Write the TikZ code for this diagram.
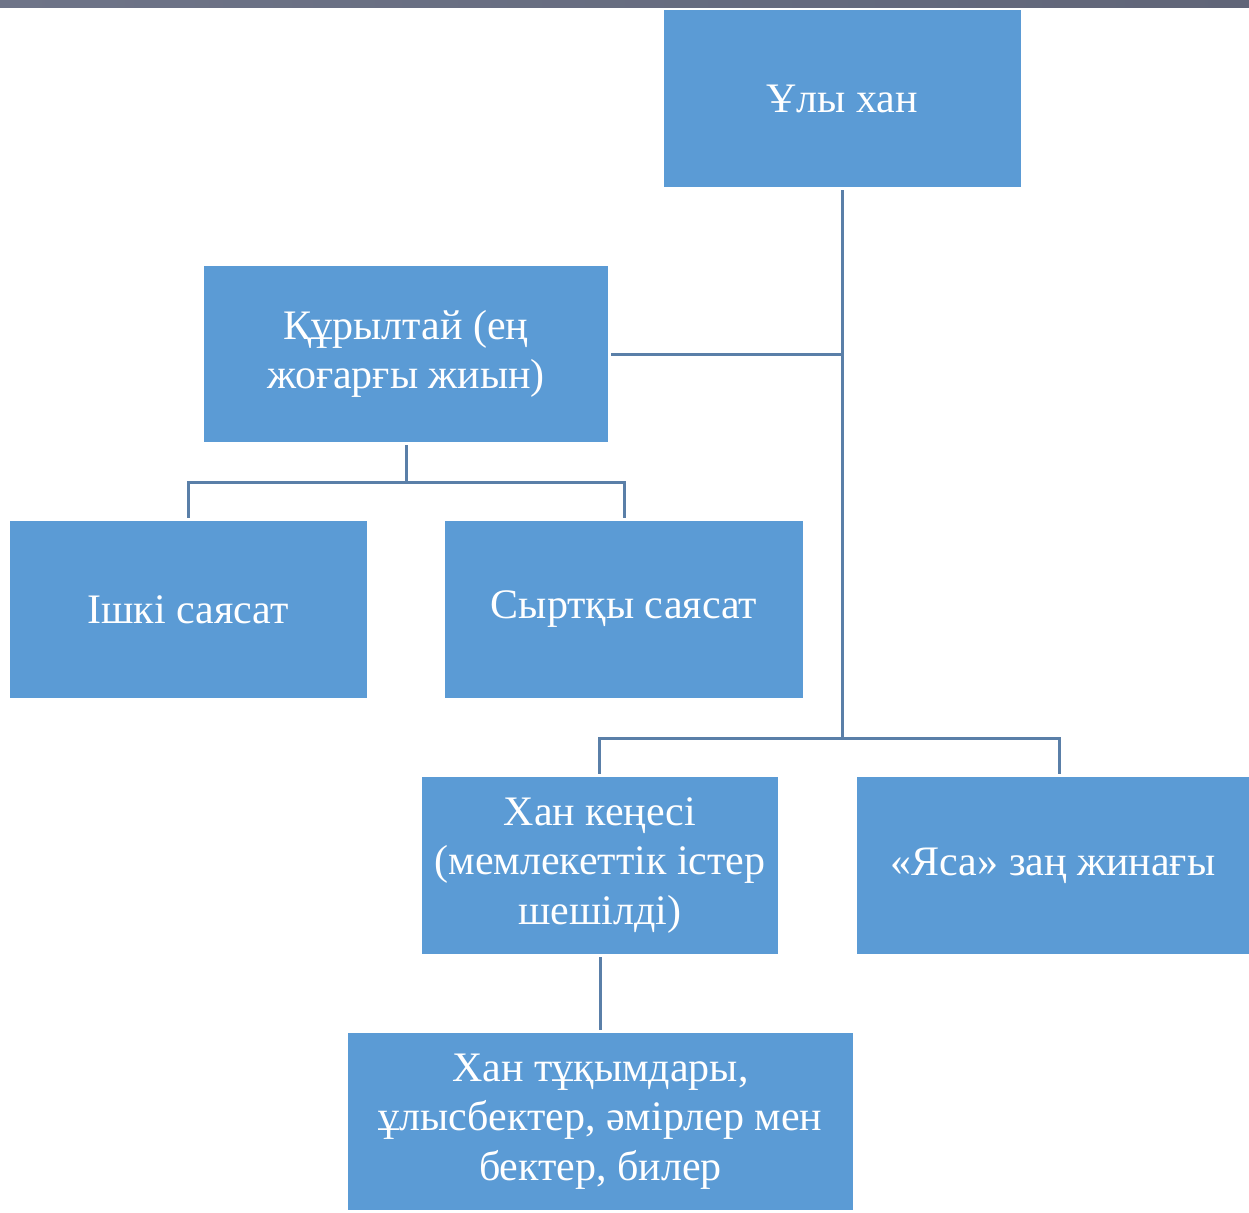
\documentclass[tikz,border=0pt]{standalone}
\usepackage{fontspec}
\setmainfont{Liberation Serif}
\definecolor{boxblue}{HTML}{5B9BD5}
\definecolor{linkblue}{HTML}{5A7FA8}
\definecolor{barL}{HTML}{6E7488}
\definecolor{barR}{HTML}{606578}
\begin{document}
\begin{tikzpicture}[x=1pt,y=-1pt,
  orgbox/.style={fill=boxblue, draw=none, text=white, align=center,
    font=\fontsize{42}{49.5}\selectfont, inner sep=0pt},
  link/.style={draw=linkblue, line width=3pt}]
\useasboundingbox (0,0) rectangle (1249,1212);
\fill[white] (0,0) rectangle (1249,1212);
\shade[left color=barL, right color=barR] (0,0) rectangle (1249,8);
% boxes
\node[orgbox, minimum width=357pt, minimum height=177pt] (A) at (842,98.5) {Ұлы хан};
\node[orgbox, minimum width=404pt, minimum height=176pt] (B) at (406,354) {Құрылтай (ең\\жоғарғы жиын)};
\node[orgbox, minimum width=357pt, minimum height=177pt] (C) at (188,609.5) {Ішкі саясат};
\node[orgbox, minimum width=358pt, minimum height=177pt] (D) at (624,609.5) {Сыртқы саясат};
\node[orgbox, minimum width=356pt, minimum height=177pt] (E) at (600,865.5) {Хан кеңесі\\(мемлекеттік істер\\шешілді)};
\node[orgbox, minimum width=392pt, minimum height=177pt] (F) at (1053,865.5) {«Яса» заң жинағы};
\node[orgbox, minimum width=505pt, minimum height=177pt] (G) at (600.5,1121.5) {Хан тұқымдары,\\ұлысбектер, әмірлер мен\\бектер, билер};
% connectors
\coordinate (trunk1) at (842,354);
\coordinate (trunk2) at (842,738);
\coordinate (bus1) at (406,482);
\draw[link] ([yshift=-3pt]A.south) -- (trunk2);
\draw[link] ([xshift=3pt]B.east) -- (trunk1);
\draw[link] ([yshift=-3pt]B.south) -- (bus1);
\draw[link] (bus1) -| ([yshift=3pt]C.north);
\draw[link] (bus1) -| ([yshift=3pt]D.north);
\draw[link] (trunk2) -| ([xshift=-1pt,yshift=3pt]E.north);
\draw[link] (trunk2) -| ([xshift=6pt,yshift=3pt]F.north);
\draw[link] ([yshift=-3pt]E.south) -- ([yshift=3pt]G.north -| E.south);
\end{tikzpicture}
\end{document}
